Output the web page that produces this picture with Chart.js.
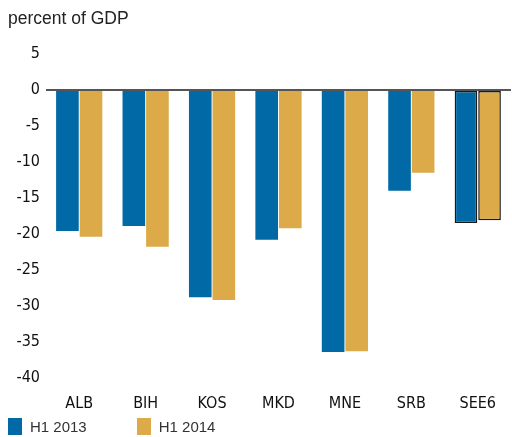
<!DOCTYPE html>
<html>
<head>
<meta charset="utf-8">
<script src="https://cdn.jsdelivr.net/npm/chart.js@4/dist/chart.umd.min.js"></script>
<style>
  html, body { margin: 0; padding: 0; background: #fff; }
  #wrap { position: relative; width: 512px; height: 437px; }
  #legend { position: absolute; left: 8px; top: 418px; font: 15px 'Liberation Sans', Arial, sans-serif; color: #333; }
  #legend span.item { display: inline-block; margin-right: 50px; }
  #legend i { display: inline-block; width: 14px; height: 17px; vertical-align: -3px; margin-right: 8px; }
</style>
</head>
<body>
<div id="wrap">
  <canvas id="chart" width="512" height="437"></canvas>
  <div id="legend"></div>
</div>
<script>
// data
const countries = ['ALB', 'BIH', 'KOS', 'MKD', 'MNE', 'SRB', 'SEE6'];
const h12013 = [-19.6, -18.9, -28.8, -20.8, -36.4, -14.0, -18.5];
const h12014 = [-20.4, -21.8, -29.2, -19.2, -36.3, -11.5, -18.1];
const seriesNames = ['H1 2013', 'H1 2014'];
const seriesColors = ['#0069a6', '#dcaa48'];

const narrow = "'DejaVu Sans Condensed', 'Liberation Sans Narrow', 'Liberation Sans', sans-serif";

// SEE6 bars get a dark outline
const outline = countries.map(c => c === 'SEE6' ? 1.5 : 0);

const ctx = document.getElementById('chart').getContext('2d');
new Chart(ctx, {
    type: 'bar',
    data: {
        labels: countries,
        datasets: [
            { label: seriesNames[0], data: h12013, backgroundColor: seriesColors[0],
              borderColor: '#1a1a1a', borderWidth: outline, borderSkipped: false },
            { label: seriesNames[1], data: h12014, backgroundColor: seriesColors[1],
              borderColor: '#1a1a1a', borderWidth: outline, borderSkipped: false }
        ]
    },
    options: {
        responsive: false,
        animation: false,
        layout: { padding: { left: 8, right: 0, top: 6, bottom: 8 } },
        categoryPercentage: 0.71,
        barPercentage: 0.96,
        plugins: {
            legend: { display: false },
            tooltip: { enabled: false },
            title: {
                display: true,
                text: 'percent of GDP',
                align: 'start',
                color: '#222',
                font: { family: "'Liberation Sans', Arial, sans-serif", size: 17.5, weight: 'normal' },
                padding: { top: 3, bottom: 24 }
            }
        },
        scales: {
            x: {
                grid: { display: false, drawTicks: false },
                border: { display: false },
                ticks: { color: '#111', padding: 16, font: { family: narrow, size: 16 } }
            },
            y: {
                min: -40,
                max: 5,
                afterFit: scale => { scale.width = 38; },
                border: { display: false },
                grid: {
                    drawTicks: false,
                    color: c => c.tick && c.tick.value === 0 ? '#555' : 'rgba(0,0,0,0)',
                    lineWidth: 2
                },
                ticks: { stepSize: 5, color: '#111', padding: 6, font: { family: narrow, size: 16 } }
            }
        }
    }
});

// legend
document.getElementById('legend').innerHTML = seriesNames.map((n, i) =>
    '<span class="item"><i style="background:' + seriesColors[i] + '"></i>' + n + '</span>').join('');
</script>
</body>
</html>
